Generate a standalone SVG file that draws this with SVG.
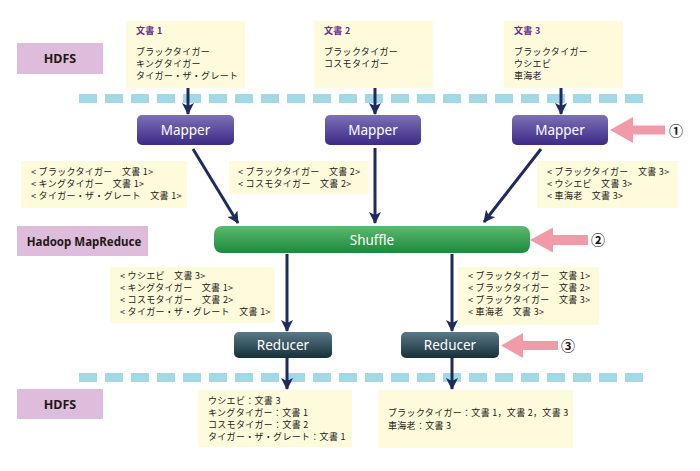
<svg xmlns="http://www.w3.org/2000/svg" width="700" height="471" viewBox="0 0 700 471">
<defs>
<linearGradient id="gMap" x1="0" y1="0" x2="0" y2="1"><stop offset="0" stop-color="#7D70B8"/><stop offset="1" stop-color="#3C2A85"/></linearGradient>
<linearGradient id="gShuf" x1="0" y1="0" x2="0" y2="1"><stop offset="0" stop-color="#5DB96E"/><stop offset="1" stop-color="#1B8A3C"/></linearGradient>
<linearGradient id="gRed" x1="0" y1="0" x2="0" y2="1"><stop offset="0" stop-color="#5B7986"/><stop offset="1" stop-color="#14303A"/></linearGradient>
<marker id="ah" viewBox="0 0 12 12" refX="11" refY="6" markerWidth="12" markerHeight="12" markerUnits="userSpaceOnUse" orient="auto"><path d="M0,0 L12,6 L0,12 L3,6 z" fill="#1F2B5F"/></marker>
<style>
.note{fill:#FDFBDC}
.lab{fill:#DDBDDB}
.labt{font-family:"Noto Sans","Noto Sans CJK JP",sans-serif;font-weight:bold;fill:#231815;text-anchor:middle}
.jp{font-family:"Noto Sans CJK JP",sans-serif;font-size:9px;letter-spacing:0.3px;fill:#231815}
.doc{font-family:"Noto Sans CJK JP",sans-serif;font-size:9px;letter-spacing:0.3px;font-weight:bold;fill:#6A2C91}
.node{font-family:"Noto Sans","Liberation Sans",sans-serif;font-size:13.5px;fill:#ffffff;text-anchor:middle}
.dash{stroke:#A3D8E6;stroke-width:9;stroke-dasharray:18 8;fill:none}
.con{stroke:#1F2B5F;stroke-width:3;fill:none;marker-end:url(#ah)}
.pink{fill:#F29BA8}
.num{font-family:"Noto Sans CJK JP",sans-serif;font-size:14px;font-weight:bold;fill:#231815;text-anchor:middle}
</style>
</defs>
<rect width="700" height="471" fill="#ffffff"/>

<g id="hdfs-top"><rect class="lab" x="17" y="43" width="86" height="31"/><text class="labt" x="60" y="63" font-size="12.5">HDFS</text></g>
<g id="mapreduce-label"><rect class="lab" x="17" y="226" width="131" height="30"/><text class="labt" x="84" y="245.5" font-size="11.5">Hadoop MapReduce</text></g>
<g id="hdfs-bottom"><rect class="lab" x="17" y="389" width="86" height="30"/><text class="labt" x="60" y="408.5" font-size="12.5">HDFS</text></g>

<g id="dashes"><line class="dash" x1="79" y1="98.5" x2="648" y2="98.5"/><line class="dash" x1="79" y1="377.5" x2="648" y2="377.5"/></g>

<g id="doc1"><rect class="note" x="126" y="21" width="119" height="67"/><text class="doc" x="136" y="34">文書 1</text><text class="jp" x="136" y="54.5">ブラックタイガー</text><text class="jp" x="136" y="66.5">キングタイガー</text><text class="jp" x="136" y="78.5">タイガー・ザ・グレート</text></g>
<g id="doc2"><rect class="note" x="314" y="21" width="119" height="67"/><text class="doc" x="324" y="34">文書 2</text><text class="jp" x="324" y="54.5">ブラックタイガー</text><text class="jp" x="324" y="66.5">コスモタイガー</text></g>
<g id="doc3"><rect class="note" x="504" y="21" width="119" height="67"/><text class="doc" x="514" y="34">文書 3</text><text class="jp" x="514" y="54.5">ブラックタイガー</text><text class="jp" x="514" y="66.5">ウシエビ</text><text class="jp" x="514" y="78.5">車海老</text></g>

<g id="mapper1"><rect x="137" y="115" width="97" height="30" rx="5" fill="url(#gMap)"/><text class="node" x="185.5" y="135">Mapper</text></g>
<g id="mapper2"><rect x="325" y="115" width="96" height="30" rx="5" fill="url(#gMap)"/><text class="node" x="373" y="135">Mapper</text></g>
<g id="mapper3"><rect x="512" y="115" width="96" height="30" rx="5" fill="url(#gMap)"/><text class="node" x="560" y="135">Mapper</text></g>

<g id="mapout1"><rect class="note" x="21" y="161" width="166" height="47"/><text class="jp" x="31" y="175">&lt; ブラックタイガー　文書 1&gt;</text><text class="jp" x="31" y="187">&lt; キングタイガー　文書 1&gt;</text><text class="jp" x="31" y="199">&lt; タイガー・ザ・グレート　文書 1&gt;</text></g>
<g id="mapout2"><rect class="note" x="229" y="161" width="140" height="33"/><text class="jp" x="238" y="175">&lt; ブラックタイガー　文書 2&gt;</text><text class="jp" x="238" y="187">&lt; コスモタイガー　文書 2&gt;</text></g>
<g id="mapout3"><rect class="note" x="537" y="161" width="141" height="47"/><text class="jp" x="547" y="175">&lt; ブラックタイガー　文書 3&gt;</text><text class="jp" x="547" y="187">&lt; ウシエビ　文書 3&gt;</text><text class="jp" x="547" y="199">&lt; 車海老　文書 3&gt;</text></g>

<g id="shuffle"><rect x="214" y="226" width="316" height="27" rx="8" fill="url(#gShuf)"/><text class="node" x="372" y="244.5">Shuffle</text></g>

<g id="shufout1"><rect class="note" x="110" y="267" width="165" height="56"/><text class="jp" x="120" y="279">&lt; ウシエビ　文書 3&gt;</text><text class="jp" x="120" y="291">&lt; キングタイガー　文書 1&gt;</text><text class="jp" x="120" y="303">&lt; コスモタイガー　文書 2&gt;</text><text class="jp" x="120" y="315">&lt; タイガー・ザ・グレート　文書 1&gt;</text></g>
<g id="shufout2"><rect class="note" x="458" y="267" width="141" height="58"/><text class="jp" x="468" y="279">&lt; ブラックタイガー　文書 1&gt;</text><text class="jp" x="468" y="291">&lt; ブラックタイガー　文書 2&gt;</text><text class="jp" x="468" y="303">&lt; ブラックタイガー　文書 3&gt;</text><text class="jp" x="468" y="315">&lt; 車海老　文書 3&gt;</text></g>

<g id="reducer1"><rect x="234" y="332" width="98" height="26" rx="5" fill="url(#gRed)"/><text class="node" x="283" y="350">Reducer</text></g>
<g id="reducer2"><rect x="401" y="332" width="98" height="26" rx="5" fill="url(#gRed)"/><text class="node" x="450" y="350">Reducer</text></g>

<g id="result1"><rect class="note" x="198" y="390" width="154" height="57"/><text class="jp" x="208" y="404">ウシエビ：文書 3</text><text class="jp" x="208" y="416">キングタイガー：文書 1</text><text class="jp" x="208" y="428">コスモタイガー：文書 2</text><text class="jp" x="208" y="440">タイガー・ザ・グレート：文書 1</text></g>
<g id="result2"><rect class="note" x="378" y="390" width="195" height="58"/><text class="jp" x="388" y="416">ブラックタイガー：文書 1，文書 2，文書 3</text><text class="jp" x="388" y="429">車海老：文書 3</text></g>

<g id="connectors">
<line class="con" x1="188" y1="88" x2="188" y2="114"/>
<line class="con" x1="375" y1="88" x2="375" y2="114"/>
<line class="con" x1="561" y1="88" x2="561" y2="114"/>
<line class="con" x1="193" y1="149" x2="238" y2="223"/>
<line class="con" x1="375" y1="148" x2="375" y2="223"/>
<line class="con" x1="541" y1="149" x2="484" y2="222"/>
<line class="con" x1="287" y1="254" x2="287" y2="331"/>
<line class="con" x1="452" y1="254" x2="452" y2="331"/>
<line class="con" x1="287" y1="358" x2="287" y2="389"/>
<line class="con" x1="452" y1="358" x2="452" y2="389"/>
</g>

<g id="pointer1"><polygon class="pink" points="610,130 633,117 633,125.5 665,125.5 665,134.5 633,134.5 633,143"/><text class="num" x="676" y="135.5">①</text></g>
<g id="pointer2"><polygon class="pink" points="530,240 553,227.5 553,235 588,235 588,245 553,245 553,252.5"/><text class="num" x="598" y="245">②</text></g>
<g id="pointer3"><polygon class="pink" points="501,345.5 523,333 523,341 558,341 558,350 523,350 523,358"/><text class="num" x="568" y="350.5">③</text></g>
</svg>
